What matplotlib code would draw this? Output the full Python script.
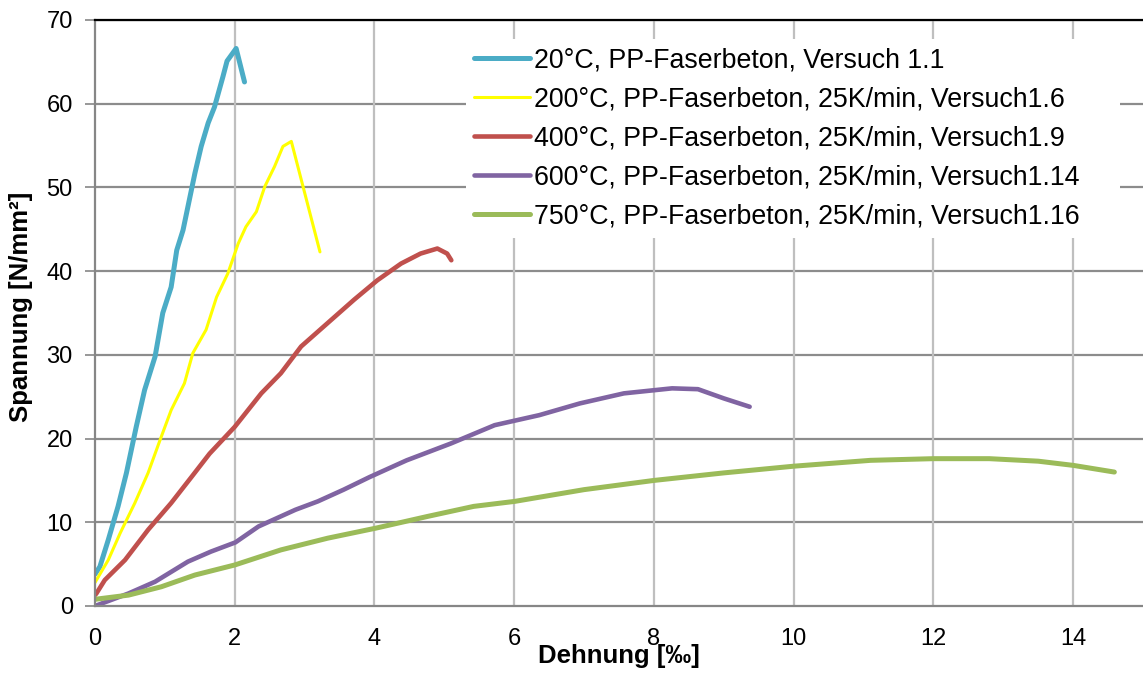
import matplotlib
matplotlib.use("Agg")
import matplotlib.pyplot as plt

plt.rcParams['font.family'] = ['Liberation Sans', 'DejaVu Sans']

# 20°C
x20 = [0.0, 0.07, 0.19, 0.33, 0.45, 0.59, 0.71, 0.86, 0.97, 1.09, 1.17, 1.26, 1.36, 1.43, 1.52, 1.62, 1.71, 1.83, 1.89, 2.02, 2.14]
y20 = [3.8, 4.7, 7.9, 11.9, 15.9, 21.4, 25.8, 29.8, 35.0, 38.1, 42.5, 44.9, 48.9, 51.7, 54.9, 57.7, 59.6, 63.2, 65.1, 66.6, 62.6]
# 200°C
x200 = [0.0, 0.19, 0.36, 0.57, 0.76, 0.93, 1.09, 1.28, 1.40, 1.59, 1.74, 1.90, 2.05, 2.16, 2.31, 2.43, 2.57, 2.69, 2.81, 3.22]
y200 = [2.8, 5.5, 8.7, 12.3, 15.9, 19.8, 23.4, 26.6, 30.2, 33.0, 36.9, 39.7, 43.3, 45.3, 47.1, 50.1, 52.5, 54.9, 55.5, 42.3]
# 400°C
x400 = [0.0, 0.02, 0.14, 0.43, 0.76, 1.09, 1.38, 1.64, 2.00, 2.38, 2.66, 2.95, 3.33, 3.71, 4.04, 4.38, 4.66, 4.90, 5.04, 5.10]
y400 = [1.3, 1.5, 3.1, 5.5, 9.1, 12.3, 15.4, 18.2, 21.4, 25.4, 27.8, 31.0, 33.8, 36.6, 38.9, 40.9, 42.1, 42.7, 42.1, 41.3]
# 600°C
x600 = [0.0, 0.48, 0.86, 1.33, 1.66, 2.01, 2.34, 2.87, 3.19, 3.56, 3.93, 4.46, 5.09, 5.72, 6.36, 6.94, 7.57, 8.26, 8.63, 9.00, 9.37]
y600 = [0.0, 1.5, 2.9, 5.3, 6.5, 7.6, 9.5, 11.5, 12.5, 13.9, 15.4, 17.4, 19.4, 21.6, 22.8, 24.2, 25.4, 26.0, 25.9, 24.8, 23.8]
# 750°C
x750 = [0.0, 0.48, 0.95, 1.43, 2.00, 2.66, 3.33, 4.02, 4.76, 5.42, 6.01, 7.00, 8.00, 9.00, 10.0, 11.1, 12.0, 12.8, 13.5, 14.0, 14.59]
y750 = [0.8, 1.3, 2.3, 3.7, 4.9, 6.7, 8.1, 9.3, 10.7, 11.9, 12.5, 13.9, 15.0, 15.9, 16.7, 17.4, 17.6, 17.6, 17.3, 16.8, 16.0]

labels = ["20°C, PP-Faserbeton, Versuch 1.1",
          "200°C, PP-Faserbeton, 25K/min, Versuch1.6",
          "400°C, PP-Faserbeton, 25K/min, Versuch1.9",
          "600°C, PP-Faserbeton, 25K/min, Versuch1.14",
          "750°C, PP-Faserbeton, 25K/min, Versuch1.16"]
colors = ["#4bacc6", "#ffff00", "#c0504d", "#8064a2", "#9bbb59"]
widths = [3.6, 2.2, 3.3, 3.3, 3.6]
xticks = [0, 2, 4, 6, 8, 10, 12, 14]
yticks = [0, 10, 20, 30, 40, 50, 60, 70]

fig = plt.figure(figsize=(11.43, 6.73), dpi=100)
ax = fig.add_axes([95/1143, 1-606/673, 1-95/1143, (606-20)/673])

series = [(x20, y20), (x200, y200), (x400, y400), (x600, y600), (x750, y750)]
for (xs, ys), lab, c, w in zip(series, labels, colors, widths):
    ax.plot(xs, ys, color=c, lw=w, label=lab, solid_capstyle='round', solid_joinstyle='round')

ax.set_xlim(0, 15)
ax.set_ylim(0, 70)
ax.set_xticks(xticks)
ax.set_yticks(yticks)
ax.tick_params(axis='x', length=0, pad=16, labelsize=17)
ax.tick_params(axis='y', length=7, width=1.2, color='#868686', pad=9, labelsize=17)

for v in yticks[1:]:
    ax.axhline(v, color='#8c8c8c', lw=1.6, zorder=0)
for v in xticks[1:]:
    ax.axvline(v, color='#bfbfbf', lw=1.6, zorder=0)

ax.spines['left'].set_color('#868686')
ax.spines['left'].set_linewidth(1.6)
ax.spines['bottom'].set_color('#868686')
ax.spines['bottom'].set_linewidth(1.6)
ax.spines['top'].set_color('black')
ax.spines['top'].set_linewidth(1.6)
ax.spines['right'].set_visible(False)

ax.set_xlabel("Dehnung [‰]", fontsize=18.5, fontweight='bold')
ax.xaxis.set_label_coords(0.5, -0.064)
ax.set_ylabel("Spannung [N/mm²]", fontsize=18.5, fontweight='bold')
ax.yaxis.set_label_coords(-0.059, 0.51)

x0 = (466 - 95) / 1048
w = (1120 - 466) / 1048
top = (606 - 39) / 586
leg = ax.legend(loc='upper left', bbox_to_anchor=(x0, top - 0.4, w, 0.4), mode='expand',
                fontsize=19.3, frameon=True,
                facecolor='white', edgecolor='none', framealpha=1, fancybox=False,
                handlelength=2.1, handletextpad=0.15, labelspacing=0.49, borderpad=0.3,
                borderaxespad=0)

fig.savefig("out.png", dpi=100)
